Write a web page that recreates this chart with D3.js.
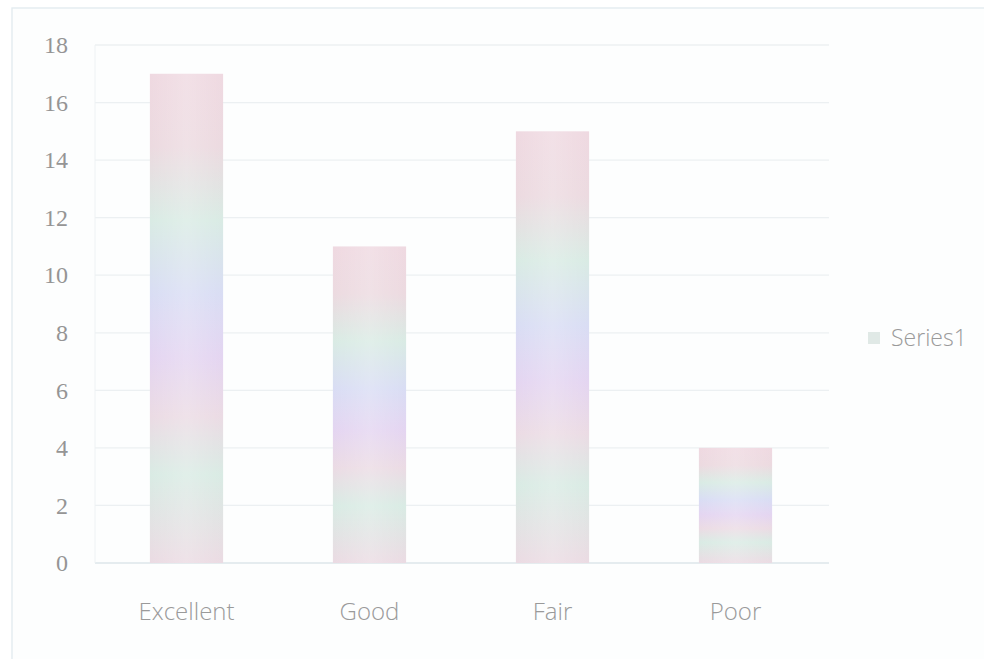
<!DOCTYPE html>
<html><head><meta charset="utf-8">
<script src="https://cdn.jsdelivr.net/npm/d3@7"></script>
<style>body{margin:0;background:#fff}svg{display:block}</style>
</head><body>
<svg id="c" width="984" height="659"></svg>
<script>
const categories = ["Excellent","Good","Fair","Poor"];
const values = [17, 11, 15, 4];
const yTicks = [0,2,4,6,8,10,12,14,16,18];
const seriesName = "Series1";

const svg = d3.select("#c");
const W = 984, H = 659;
const m = {left:95, right:157, top:45, bottom:96};

// outer chart frame
svg.append("rect").attr("x",12).attr("y",8).attr("width",W-10).attr("height",H-4)
  .attr("fill","#fdfefe").attr("stroke","#e3ecf0").attr("stroke-width",1.4);

const x = d3.scaleBand().domain(categories).range([m.left, W-m.right]).paddingInner(0.6).paddingOuter(0.3);
const y = d3.scaleLinear().domain([0,18]).range([H-m.bottom, m.top]);

const defs = svg.append("defs");
const g = defs.append("linearGradient").attr("id","bg").attr("x1",0).attr("y1",0).attr("x2",0).attr("y2",1);
[["0%","#efd9e1"],["15%","#ecdae0"],["30%","#d9ebe4"],["45%","#d9ddf4"],["58%","#e4d5f1"],["70%","#ebdbe4"],["82%","#d9ebe4"],["100%","#ebdbe3"]]
  .forEach(([o,c])=>g.append("stop").attr("offset",o).attr("stop-color",c));
const g2 = defs.append("linearGradient").attr("id","bg2").attr("x1",0).attr("y1",0).attr("x2",1).attr("y2",0);
[["0%","#ffffff","0.0"],["50%","#ffffff","0.2"],["100%","#ffffff","0.0"]]
  .forEach(([o,c,op])=>g2.append("stop").attr("offset",o).attr("stop-color",c).attr("stop-opacity",op));

// gridlines
svg.append("g").selectAll("line").data(yTicks).join("line")
  .attr("x1",m.left).attr("x2",W-m.right+2)
  .attr("y1",d=>y(d)).attr("y2",d=>y(d))
  .attr("stroke",d=>d===0?"#dce6ea":"#ecf0f2").attr("stroke-width",1.3);

// y axis line faint
svg.append("line").attr("x1",m.left).attr("x2",m.left).attr("y1",m.top).attr("y2",y(0))
  .attr("stroke","#eef2f4").attr("stroke-width",1);

// y axis labels
const yAxis = d3.axisLeft(y).tickValues(yTicks).tickSize(0).tickPadding(27);
const ya = svg.append("g").attr("transform",`translate(${m.left},0)`).call(yAxis);
ya.select(".domain").remove();
ya.selectAll("text").attr("fill","#959595").style("font-family","'Liberation Serif',serif")
  .style("font-size","24px");

// x axis labels
const xAxis = d3.axisBottom(x).tickSize(0).tickPadding(40);
const xa = svg.append("g").attr("transform",`translate(0,${y(0)})`).call(xAxis);
xa.select(".domain").remove();
xa.selectAll("text").attr("fill","#9a9a9a").style("font-family","'Open Sans',sans-serif")
  .style("font-size","24px").style("font-weight","300");

// bars
const bars = svg.append("g");
bars.selectAll("rect.b").data(values).join("rect").attr("class","b")
  .attr("x",(d,i)=>x(categories[i])).attr("width",x.bandwidth())
  .attr("y",d=>y(d)).attr("height",d=>y(0)-y(d))
  .attr("fill","url(#bg)");
bars.selectAll("rect.s").data(values).join("rect").attr("class","s")
  .attr("x",(d,i)=>x(categories[i])).attr("width",x.bandwidth())
  .attr("y",d=>y(d)).attr("height",d=>y(0)-y(d))
  .attr("fill","url(#bg2)");

// legend
const lg = svg.append("g").attr("transform","translate(868,338)");
lg.append("rect").attr("x",0).attr("y",-6).attr("width",12).attr("height",12).attr("fill","#e0e9e6");
lg.append("text").attr("x",23).attr("y",8).text(seriesName)
  .attr("fill","#9a9a9a").style("font-family","'Open Sans',sans-serif").style("font-size","23px").style("font-weight","300");
</script>
</body></html>
